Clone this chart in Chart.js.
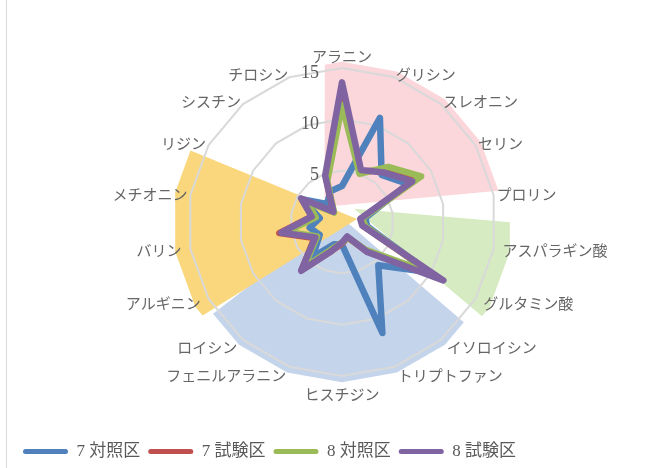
<!DOCTYPE html>
<html>
<head>
<meta charset="utf-8">
<script src="https://cdn.jsdelivr.net/npm/chart.js@4.4.1/dist/chart.umd.min.js"></script>
<style>
  body { margin: 0; background: #ffffff; overflow: hidden; }
  #wrap { position: relative; width: 669px; height: 470px; }
  #frame { position: absolute; left: 6px; top: 0; height: 470px; border-left: 1px solid #d9d9d9; }
</style>
</head>
<body>
<div id="wrap">
  <div id="frame"></div>
  <canvas id="grafico"></canvas>
</div>
<script>
// アミノ酸 (時計回り、上から)
const aminoAcids = ['アラニン', 'グリシン', 'スレオニン', 'セリン', 'プロリン', 'アスパラギン酸', 'グルタミン酸',
    'イソロイシン', 'トリプトファン', 'ヒスチジン', 'フェニルアラニン', 'ロイシン', 'アルギニン', 'バリン',
    'メチオニン', 'リジン', 'シスチン', 'チロシン'];

const seriesNames = ['7 対照区', '7 試験区', '8 対照区', '8 試験区'];
const seriesColors = ['#4F81BD', '#C0504D', '#9BBB59', '#8064A2'];

const taisho7 = [3.5, 10.8, 6.0, 7.4, 2.3, 2.5, 9.8, 5.5, 11.5, 2.2, 2.3, 4.5, 2.5, 3.2, 2.2, 4.4, 2.3, 3.2];
const shiken7 = [13.0, 5.2, 6.6, 8.4, 1.9, 2.1, 10.3, 3.7, 1.6, 2.1, 3.0, 6.1, 3.1, 6.2, 3.0, 4.3, 1.3, 4.5];
const taisho8 = [11.4, 5.0, 7.0, 8.9, 2.0, 2.3, 9.9, 3.5, 1.6, 2.0, 2.8, 5.8, 2.8, 5.5, 2.6, 3.9, 1.2, 4.2];
const shiken8 = [13.6, 5.4, 6.3, 7.9, 1.8, 2.0, 11.4, 3.8, 1.5, 2.0, 3.0, 6.2, 3.0, 6.0, 3.0, 4.6, 1.3, 4.8];

const tickValues = [5, 10, 15];

// 背景の扇形: 辺の向き (度)、外側の値、頂点のずれ (角度と値)
const wedgeFrom = [0, 94.8, 130.5, 238];
const wedgeTo = [84.7, 130, 232.5, 292.4];
const wedgeValue = [15.6, 16.6, 15.6, 16.5];
const wedgeApexAngle = [311, 43, 340, 79];
const wedgeApexValue = [2.25, 1.75, 0.6, 1.5];
const wedgeColors = ['#FBD6DB', '#D6EBC1', '#C4D4EB', '#FAD77C'];

const serifFont = "'Liberation Serif', 'Noto Sans CJK JP', serif";
const labelFont = "15px 'Noto Sans CJK JP', sans-serif";

const grau = Math.PI / 180;

// 背景の扇形を描く
const fundoPlugin = {
    id: 'fundo',
    beforeDraw(chart) {
        const r = chart.scales.r;
        const ctx = chart.ctx;
        const step = 360 / aminoAcids.length;
        const cx = r.xCenter, cy = r.yCenter;
        for (let w = 0; w < wedgeColors.length; w++) {
            const raio = r.getDistanceFromCenterForValue(wedgeValue[w]);
            const apex = r.getPointPosition(wedgeApexAngle[w] / step, r.getDistanceFromCenterForValue(wedgeApexValue[w]));
            // onde o raio a partir do vértice encontra o contorno
            const bate = (alfa) => {
                const dx = Math.sin(alfa * grau), dy = -Math.cos(alfa * grau);
                const ax = apex.x - cx, ay = apex.y - cy;
                const b = ax * dx + ay * dy;
                const c = ax * ax + ay * ay - raio * raio;
                const t = -b + Math.sqrt(b * b - c);
                const px = apex.x + t * dx - cx, py = apex.y + t * dy - cy;
                return Math.atan2(px, -py) / grau;
            };
            let ini = bate(wedgeFrom[w]);
            let fim = bate(wedgeTo[w]);
            if (fim < ini) fim += 360;
            const angulos = [ini];
            for (let a = Math.ceil(ini / step) * step; a < fim; a += step) {
                if (a > ini) angulos.push(a);
            }
            angulos.push(fim);
            ctx.save();
            ctx.beginPath();
            ctx.moveTo(apex.x, apex.y);
            angulos.forEach(a => {
                const off = ((a % step) + step) % step - step / 2;
                const d = raio * Math.cos(step / 2 * grau) / Math.cos(off * grau);
                const p = r.getPointPosition(a / step, d);
                ctx.lineTo(p.x, p.y);
            });
            ctx.closePath();
            ctx.fillStyle = wedgeColors[w];
            ctx.fill();
            ctx.restore();
        }
    }
};

// 目盛りラベルと項目名
const textosPlugin = {
    id: 'textos',
    afterDraw(chart) {
        const r = chart.scales.r;
        const ctx = chart.ctx;
        const step = 360 / aminoAcids.length;
        ctx.save();
        ctx.font = '18px ' + serifFont;
        ctx.fillStyle = '#595959';
        ctx.textAlign = 'right';
        ctx.textBaseline = 'middle';
        tickValues.forEach(v => {
            const d = r.getDistanceFromCenterForValue(v);
            ctx.fillText(String(v), r.xCenter - 23, r.yCenter - d + 5);
        });

        ctx.font = labelFont;
        ctx.fillStyle = '#666666';
        aminoAcids.forEach((nome, i) => {
            const ang = i * step;
            const baixo = ang > 90 && ang < 270;
            const p = r.getPointPosition(i, r.drawingArea + (baixo ? 9 : 3));
            let y = p.y;
            if (ang === 0) y -= 9;
            if (ang === 180) y += 9;
            ctx.textAlign = (ang === 0 || ang === 180) ? 'center' : (ang < 180 ? 'left' : 'right');
            ctx.fillText(nome, p.x, y);
        });
        ctx.restore();
    }
};

const series = [taisho7, shiken7, taisho8, shiken8];
const datasets = [];
for (let i = 0; i < series.length; i++) {
    datasets.push({
        label: seriesNames[i],
        data: series[i],
        borderColor: seriesColors[i],
        backgroundColor: seriesColors[i],
        borderWidth: 6.5,
        borderJoinStyle: 'round',
        fill: false,
        pointRadius: 0,
        pointHoverRadius: 0,
        order: series.length - i
    });
}

new Chart(document.getElementById('grafico'), {
    type: 'radar',
    data: { labels: aminoAcids, datasets: datasets },
    options: {
        responsive: true,
        maintainAspectRatio: false,
        animation: false,
        layout: { padding: { top: 68, left: 15, right: 0, bottom: 0 } },
        scales: {
            r: {
                min: 0,
                max: 15,
                ticks: { stepSize: 5, display: false },
                grid: { color: '#d9d9d9', lineWidth: 2, circular: false },
                angleLines: { display: false },
                pointLabels: { display: false }
            }
        },
        plugins: {
            tooltip: { enabled: false },
            legend: {
                position: 'bottom',
                align: 'start',
                title: { display: true, text: '', padding: { top: 57, bottom: 0 }, font: { size: 1, lineHeight: 1 } },
                labels: {
                    boxWidth: 45,
                    boxHeight: 5,
                    useBorderRadius: true,
                    borderRadius: 2.5,
                    padding: 8,
                    color: '#595959',
                    font: { size: 17, family: serifFont },
                    sort: (a, b) => a.datasetIndex - b.datasetIndex,
                    generateLabels(chart) {
                        return Chart.defaults.plugins.legend.labels.generateLabels(chart).map(l => {
                            l.fillStyle = l.strokeStyle;
                            l.lineWidth = 0;
                            return l;
                        });
                    }
                }
            }
        }
    },
    plugins: [fundoPlugin, textosPlugin]
});
</script>
</body>
</html>
